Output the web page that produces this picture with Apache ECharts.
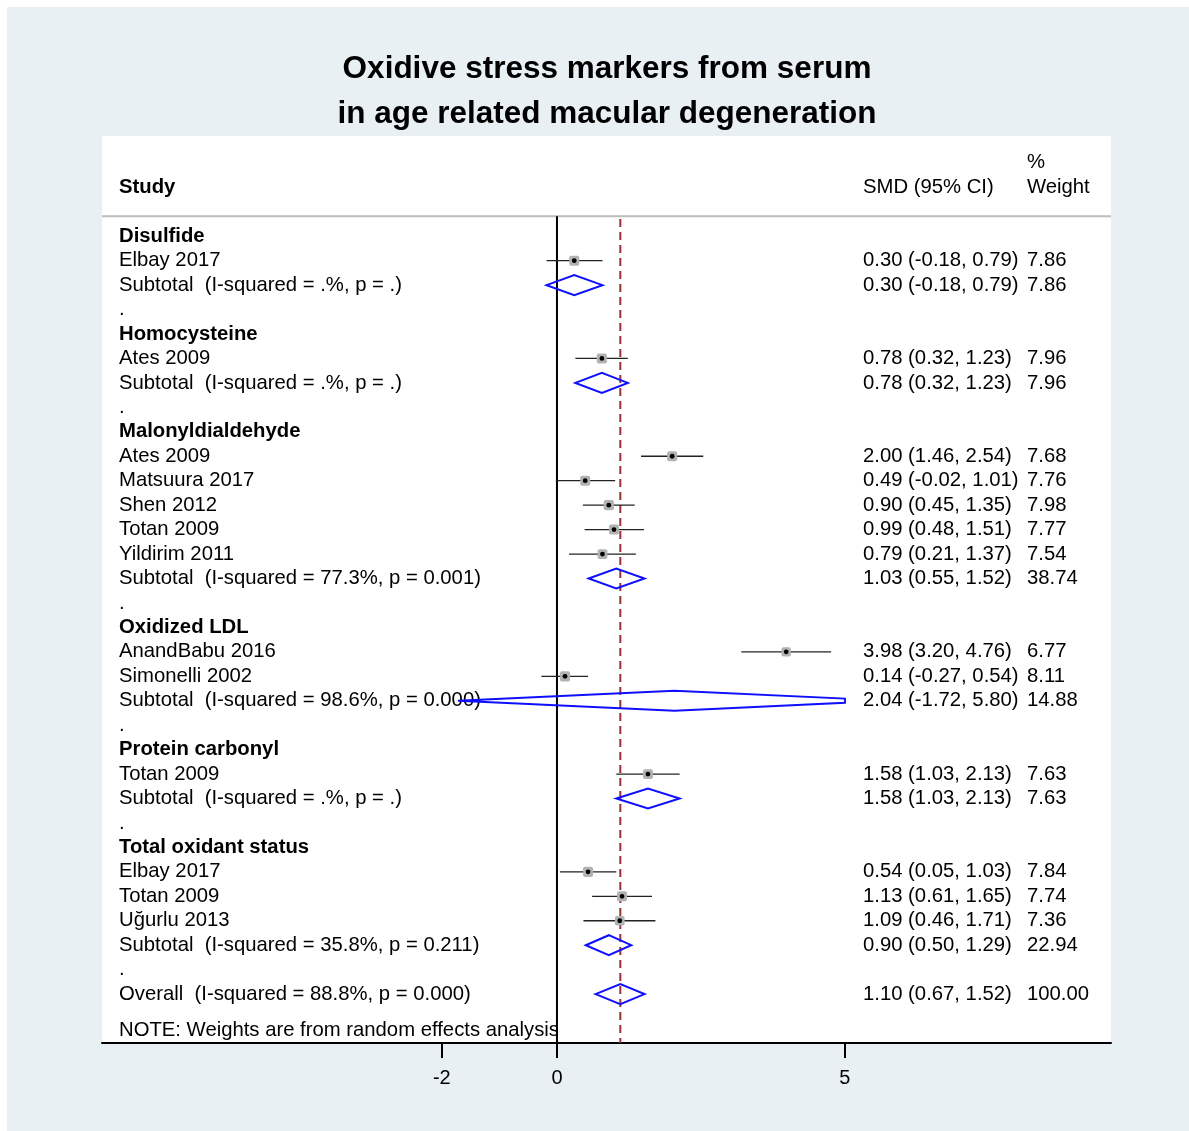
<!DOCTYPE html>
<html><head><meta charset="utf-8">
<script src="https://cdn.jsdelivr.net/npm/echarts@6/dist/echarts.min.js"></script>
<style>
html,body{margin:0;padding:0;background:#fff;}
#bg{position:absolute;left:7px;top:7px;width:1182px;height:1124px;background:#e8f0f3;}
#chart{position:absolute;left:0;top:0;width:1189px;height:1131px;}
</style>
</head><body><div id="bg"></div><div id="chart"></div>
<script>
// ---------------- data ----------------
const rowLabels = [
  'Disulfide', 'Elbay 2017', 'Subtotal  (I-squared = .%, p = .)', '.',
  'Homocysteine', 'Ates 2009', 'Subtotal  (I-squared = .%, p = .)', '.',
  'Malonyldialdehyde', 'Ates 2009', 'Matsuura 2017', 'Shen 2012', 'Totan 2009', 'Yildirim 2011',
  'Subtotal  (I-squared = 77.3%, p = 0.001)', '.',
  'Oxidized LDL', 'AnandBabu 2016', 'Simonelli 2002', 'Subtotal  (I-squared = 98.6%, p = 0.000)', '.',
  'Protein carbonyl', 'Totan 2009', 'Subtotal  (I-squared = .%, p = .)', '.',
  'Total oxidant status', 'Elbay 2017', 'Totan 2009', 'Uğurlu 2013', 'Subtotal  (I-squared = 35.8%, p = 0.211)', '.',
  'Overall  (I-squared = 88.8%, p = 0.000)'
];
const rowKinds = [
  'group', 'study', 'subtotal', 'blank',
  'group', 'study', 'subtotal', 'blank',
  'group', 'study', 'study', 'study', 'study', 'study', 'subtotal', 'blank',
  'group', 'study', 'study', 'subtotal', 'blank',
  'group', 'study', 'subtotal', 'blank',
  'group', 'study', 'study', 'study', 'subtotal', 'blank',
  'overall'
];
const smdValues = [
  null, 0.30, 0.30, null,
  null, 0.78, 0.78, null,
  null, 2.00, 0.49, 0.90, 0.99, 0.79, 1.03, null,
  null, 3.98, 0.14, 2.04, null,
  null, 1.58, 1.58, null,
  null, 0.54, 1.13, 1.09, 0.90, null,
  1.10
];
const ciLower = [
  null, -0.18, -0.18, null,
  null, 0.32, 0.32, null,
  null, 1.46, -0.02, 0.45, 0.48, 0.21, 0.55, null,
  null, 3.20, -0.27, -1.72, null,
  null, 1.03, 1.03, null,
  null, 0.05, 0.61, 0.46, 0.50, null,
  0.67
];
const ciUpper = [
  null, 0.79, 0.79, null,
  null, 1.23, 1.23, null,
  null, 2.54, 1.01, 1.35, 1.51, 1.37, 1.52, null,
  null, 4.76, 0.54, 5.80, null,
  null, 2.13, 2.13, null,
  null, 1.03, 1.65, 1.71, 1.29, null,
  1.52
];
const weightValues = [
  null, 7.86, 7.86, null,
  null, 7.96, 7.96, null,
  null, 7.68, 7.76, 7.98, 7.77, 7.54, 38.74, null,
  null, 6.77, 8.11, 14.88, null,
  null, 7.63, 7.63, null,
  null, 7.84, 7.74, 7.36, 22.94, null,
  100.00
];
const overallEffect = 1.10;
const xTickValues = [-2, 0, 5];
const headerStudy = 'Study';
const headerSmd = 'SMD (95% CI)';
const headerWeight = ['%', 'Weight'];
const noteText = 'NOTE: Weights are from random effects analysis';
const chartTitle = 'Oxidive stress markers from serum\nin age related macular degeneration';

// ---------------- layout / style ----------------
const FONT = '"Liberation Sans", Arial, Helvetica, sans-serif';
const X_MIN = -7.9, X_MAX = 9.62;
const Y_MIN = -4.1, Y_MAX = 33.0;
const COL_STUDY = 119, COL_SMD = 863, COL_W = 1027;
const ROW_HEADER = -2.0, ROW_PCT = -3.03, ROW_RULE = -0.818, ROW_NOTE = 32.5;
const CLIP_LO = Math.min(...xTickValues), CLIP_HI = Math.max(...xTickValues);

function txt(text, x, y, bold) {
  return {
    type: 'text',
    style: {
      text: text, x: x, y: y,
      font: (bold ? 'bold ' : '') + '20.3px ' + FONT,
      fill: '#000',
      align: 'left', verticalAlign: 'middle',
      textAlign: 'left', textVerticalAlign: 'middle'
    }
  };
}

const rowIdx = rowLabels.map((_, i) => [i]);
rowIdx.push([-1]); // header + note item

function renderRow(params, api) {
  const i = params.dataIndex;
  const children = [];
  if (i >= rowLabels.length) {
    const yH = api.coord([0, ROW_HEADER])[1];
    const yP = api.coord([0, ROW_PCT])[1];
    const yN = api.coord([0, ROW_NOTE])[1];
    children.push(txt(headerStudy, COL_STUDY, yH, true));
    children.push(txt(headerSmd, COL_SMD, yH, false));
    children.push(txt(headerWeight[0], COL_W, yP, false));
    children.push(txt(headerWeight[1], COL_W, yH, false));
    children.push(txt(noteText, COL_STUDY, yN, false));
    return { type: 'group', children: children };
  }
  const kind = rowKinds[i];
  const y = api.coord([0, i])[1];
  children.push(txt(rowLabels[i], COL_STUDY, y, kind === 'group'));
  if (smdValues[i] != null) {
    const est = smdValues[i], lo = ciLower[i], hi = ciUpper[i];
    const pE = api.coord([est, i])[0];
    const pL = api.coord([Math.max(lo, CLIP_LO), i])[0];
    const pH = api.coord([Math.min(hi, CLIP_HI), i])[0];
    if (kind === 'study') {
      children.push({ type: 'line', shape: { x1: pL, y1: y, x2: pH, y2: y }, style: { stroke: '#222', lineWidth: 1.3 } });
      const s = 10 * Math.sqrt(weightValues[i] / 7.8);
      children.push({ type: 'rect', shape: { x: pE - s / 2, y: y - s / 2, width: s, height: s, r: 2 }, style: { fill: '#b2b2b2' } });
      children.push({ type: 'circle', shape: { cx: pE, cy: y, r: 2.4 }, style: { fill: '#000' } });
    } else {
      const h = 10;
      const pts = [];
      if (lo < CLIP_LO) {
        const f = (CLIP_LO - lo) / (est - lo);
        pts.push([pL, y + h * f], [pL, y - h * f]);
      } else {
        pts.push([pL, y]);
      }
      pts.push([pE, y - h]);
      if (hi > CLIP_HI) {
        const f = (hi - CLIP_HI) / (hi - est);
        pts.push([pH, y - h * f], [pH, y + h * f]);
      } else {
        pts.push([pH, y]);
      }
      pts.push([pE, y + h]);
      children.push({ type: 'polygon', shape: { points: pts }, style: { fill: 'none', stroke: '#0f0fff', lineWidth: 2 } });
    }
    const smdTxt = est.toFixed(2) + ' (' + lo.toFixed(2) + ', ' + hi.toFixed(2) + ')';
    children.push(txt(smdTxt, COL_SMD, y, false));
    children.push(txt(weightValues[i].toFixed(2), COL_W, y, false));
  }
  return { type: 'group', children: children };
}

const chart = echarts.init(document.getElementById('chart'), null, { renderer: 'canvas' });
chart.setOption({
  backgroundColor: 'transparent',
  animation: false,
  title: {
    text: chartTitle,
    left: 602, top: 42, textAlign: 'center',
    textStyle: { fontSize: 31.5, fontWeight: 'bold', fontFamily: FONT, color: '#000', lineHeight: 45 }
  },
  grid: {
    left: 102, right: 78, top: 136, bottom: 88,
    show: true, backgroundColor: '#fff', borderWidth: 0
  },
  xAxis: {
    type: 'value', min: X_MIN, max: X_MAX,
    axisLine: { show: true, onZero: false, lineStyle: { color: '#000', width: 2 } },
    axisTick: { show: true, customValues: xTickValues, length: 15, lineStyle: { color: '#000', width: 2 } },
    axisLabel: { show: true, customValues: xTickValues, margin: 25, fontSize: 20, fontFamily: FONT, color: '#000' },
    splitLine: { show: false }
  },
  yAxis: {
    type: 'value', min: Y_MIN, max: Y_MAX, inverse: true, show: false
  },
  series: [
    { type: 'line', silent: true, symbol: 'none', data: [[X_MIN, ROW_RULE], [X_MAX, ROW_RULE]],
      lineStyle: { color: '#bdbdbd', width: 2 }, z: 1 },
    { type: 'line', silent: true, symbol: 'none', data: [[0, ROW_RULE], [0, Y_MAX]],
      lineStyle: { color: '#000', width: 2 }, z: 2 },
    { type: 'line', silent: true, symbol: 'none', data: [[overallEffect, -0.7], [overallEffect, Y_MAX]],
      lineStyle: { color: '#9b3036', width: 2, type: [8, 5] }, z: 2 },
    { type: 'custom', silent: true, clip: false, renderItem: renderRow, data: rowIdx, z: 3 }
  ]
});
</script>
</body></html>
